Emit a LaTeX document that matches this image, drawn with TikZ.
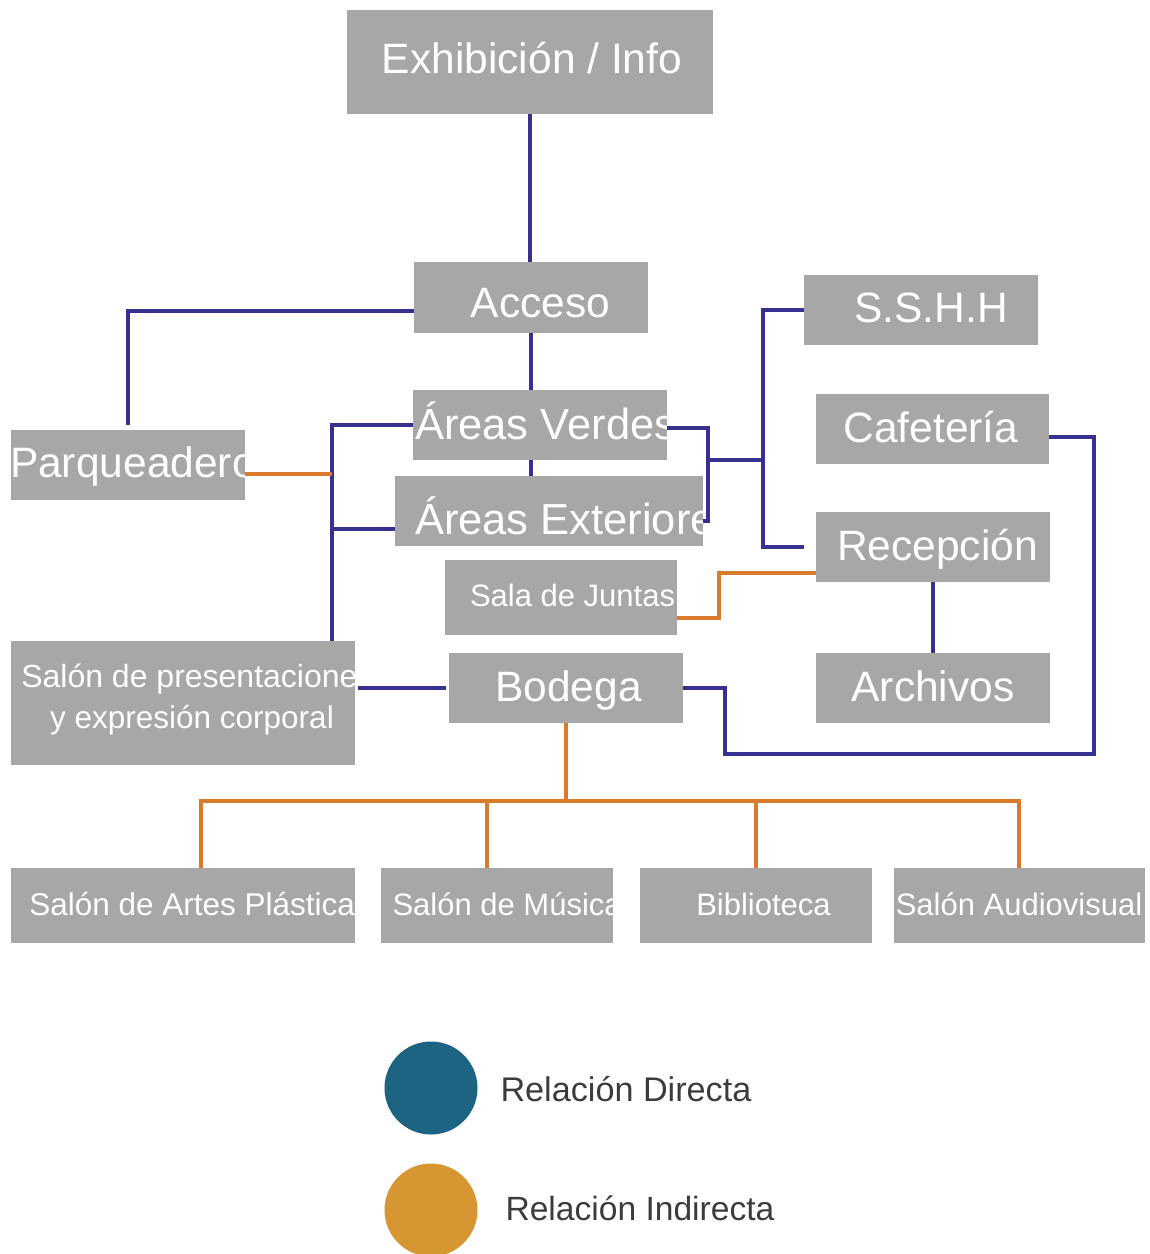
\documentclass[tikz,border=0pt]{standalone}
\usepackage{fontspec}
\setmainfont{Liberation Sans}
\definecolor{boxgray}{HTML}{A6A7A6}
\definecolor{dirblue}{HTML}{36308E}
\definecolor{indorange}{HTML}{D87B2A}
\definecolor{legblue}{HTML}{1C6482}
\definecolor{legorange}{HTML}{D69632}
\definecolor{legtext}{HTML}{3C3C3C}
% #1 box name, #2 text node name, #3 x, #4 y, #5 options, #6 text
\newcommand\boxtext[6]{%
  \begin{scope}
    \clip (#1.south west) rectangle (#1.north east);
    \node[#5] (#2) at (#3,#4) {#6};
  \end{scope}}
\begin{document}
\begin{tikzpicture}[x=1pt,y=-1pt,
  box/.style={fill=boxgray, inner sep=0pt, outer sep=0pt, anchor=north west},
  lbl/.style={text=white, inner sep=0pt, outer sep=0pt},
  big/.style={lbl, font=\fontsize{42.5}{51}\selectfont},
  bigger/.style={lbl, font=\fontsize{43.5}{52}\selectfont},
  small/.style={lbl, font=\fontsize{31}{37}\selectfont},
  smallp/.style={lbl, font=\fontsize{31.5}{38}\selectfont},
  smallpp/.style={lbl, font=\fontsize{32}{38}\selectfont},
  dir/.style={draw=dirblue, line width=4pt},
  ind/.style={draw=indorange, line width=4pt},
  legdot/.style={circle, inner sep=0pt, minimum size=93pt},
  legtxt/.style={anchor=base west, text=legtext, inner sep=0pt}
]
\useasboundingbox (0,0) rectangle (1150,1254);
\clip (0,0) rectangle (1150,1254);

% ---------- boxes ----------
\node[box, minimum width=366pt, minimum height=104pt] (exh)  at (347,10)  {};
\node[box, minimum width=234pt, minimum height=71pt]  (acc)  at (414,262) {};
\node[box, minimum width=254pt, minimum height=70pt]  (av)   at (413,390) {};
\node[box, minimum width=308pt, minimum height=70pt]  (ae)   at (395,476) {};
\node[box, minimum width=234pt, minimum height=70pt]  (parq) at (11,430)  {};
\node[box, minimum width=234pt, minimum height=70pt]  (ssh)  at (804,275) {};
\node[box, minimum width=233pt, minimum height=70pt]  (caf)  at (816,394) {};
\node[box, minimum width=234pt, minimum height=70pt]  (rec)  at (816,512) {};
\node[box, minimum width=234pt, minimum height=70pt]  (arc)  at (816,653) {};
\node[box, minimum width=232pt, minimum height=75pt]  (sala) at (445,560) {};
\node[box, minimum width=234pt, minimum height=70pt]  (bod)  at (449,653) {};
\node[box, minimum width=344pt, minimum height=124pt] (pres) at (11,641)  {};
\node[box, minimum width=344pt, minimum height=75pt]  (artes) at (11,868) {};
\node[box, minimum width=232pt, minimum height=75pt]  (mus)  at (381,868) {};
\node[box, minimum width=232pt, minimum height=75pt]  (bib)  at (640,868) {};
\node[box, minimum width=251pt, minimum height=75pt]  (aud)  at (894,868) {};

% ---------- texts ----------
\boxtext{exh}{exh-t}{532}{73}{big, anchor=base}{Exhibición / Info}
\boxtext{acc}{acc-t}{540.5}{317}{big, anchor=base}{Acceso}
\boxtext{av}{av-t}{415}{439}{bigger, anchor=base west}{Áreas Verdes}
\boxtext{ae}{ae-t}{415}{534}{bigger, anchor=base west}{Áreas Exteriores}
\boxtext{parq}{parq-t}{10}{477}{big, anchor=base west}{Parqueadero}
\boxtext{ssh}{ssh-t}{931}{322}{big, anchor=base}{S.S.H.H}
\boxtext{caf}{caf-t}{931}{442}{big, anchor=base}{Cafetería}
\boxtext{rec}{rec-t}{937.5}{560}{big, anchor=base}{Recepción}
\boxtext{arc}{arc-t}{933}{701}{big, anchor=base}{Archivos}
\boxtext{bod}{bod-t}{568.5}{701}{big, anchor=base}{Bodega}
\boxtext{sala}{sala-t}{470}{606}{small, anchor=base west}{Sala de Juntas}
\boxtext{pres}{pres-t1}{21.3}{687.5}{smallpp, anchor=base west}{Salón de presentaciones}
\boxtext{pres}{pres-t2}{192}{728}{smallp, anchor=base}{y expresión corporal}
\boxtext{artes}{artes-t}{29.3}{915}{smallp, anchor=base west}{Salón de Artes Plásticas}
\boxtext{mus}{mus-t}{392.5}{915}{small, anchor=base west}{Salón de Música}
\boxtext{bib}{bib-t}{763.5}{915}{small, anchor=base}{Biblioteca}
\boxtext{aud}{aud-t}{1019}{915}{small, anchor=base}{Salón Audiovisual}

% ---------- helper coordinates ----------
\coordinate (lbx) at (332,0);
\coordinate (rbx) at (708,0);
\coordinate (rbm) at (708,460);
\coordinate (spx) at (763,0);
\coordinate (loopx) at (1094,0);
\coordinate (loopy) at (0,754);
\coordinate (bodx) at (725,0);
\coordinate (sjx) at (719,0);
\coordinate (aeL) at ([yshift=-18pt]ae.west);
\coordinate (parqR) at ([yshift=-9pt]parq.east);
\coordinate (avR) at ([yshift=-2.5pt]av.east);
\coordinate (aeR) at ([yshift=-9.5pt]ae.east);
\coordinate (recL) at ([xshift=-12pt]rec.west);
\coordinate (cafR) at ([yshift=-8pt]caf.east);
\coordinate (bodL) at ([xshift=-3pt]bod.west);
\coordinate (salaR) at ([yshift=-20pt]sala.east);
\coordinate (recL2) at ([yshift=-25.5pt]rec.west);
\coordinate (d1) at (201,801);
\coordinate (d2) at (487,801);
\coordinate (d3) at (756,801);
\coordinate (d4) at (1019,801);

% ---------- direct relations ----------
\draw[dir] (exh.south) -- (exh.south |- acc.north);
\draw[dir] ([yshift=-13.5pt]acc.west) -| ([yshift=5pt]parq.north);
\draw[dir] (acc.south) -- (acc.south |- av.north);
\draw[dir] (acc.south |- av.south) -- (acc.south |- ae.north);
\draw[dir] (av.west) -| (lbx |- pres.north);
\draw[dir] (aeL) -- (aeL -| lbx);
\draw[dir] (avR) -| (rbx |- aeR) -- (aeR);
\draw[dir] (rbm) -- (rbm -| spx);
\draw[dir] (ssh.west) -| (spx |- recL) -- (recL);
\draw[dir] (rec.south) -- (arc.north);
\draw[dir] (cafR) -| (loopx |- loopy) -| (bodx |- bod.east) -- (bod.east);
\draw[dir, shorten >=3pt] (bodL) -- (bodL -| pres.east);

% ---------- indirect relations ----------
\draw[ind] (parqR) -- (parqR -| lbx);
\draw[ind] (salaR) -| (sjx |- recL2) -- (recL2);
\draw[ind] (bod.south) -- (bod.south |- d1);
\draw[ind] (d1 |- artes.north) -- (d1) -- (d4) -- (d4 |- aud.north);
\draw[ind] (d2) -- (d2 |- mus.north);
\draw[ind] (d3) -- (d3 |- bib.north);

% ---------- legend ----------
\node[legdot, fill=legblue] (lgd) at (431,1088) {};
\node[legdot, fill=legorange] (lgi) at (431,1210) {};
\node[legtxt, font=\fontsize{34.2}{40}\selectfont] (lgd-t) at (500.3,1101.7) {Relación Directa};
\node[legtxt, font=\fontsize{33.6}{40}\selectfont] (lgi-t) at (505.3,1220) {Relación Indirecta};
\end{tikzpicture}
\end{document}
